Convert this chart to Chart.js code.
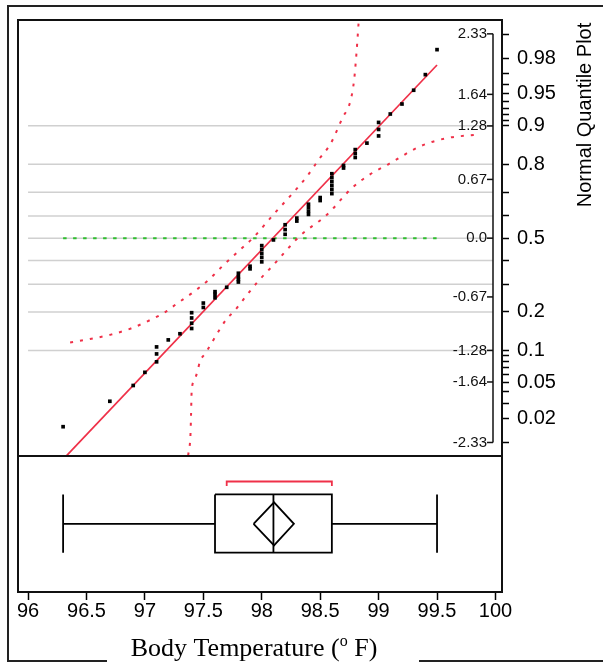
<!DOCTYPE html>
<html>
<head>
<meta charset="utf-8">
<title>Body Temperature - Normal Quantile Plot</title>
<script src="https://cdn.jsdelivr.net/npm/chart.js"></script>
<style>
	body { margin: 0; background: #fff; }
</style>
</head>
<body>
<canvas id="quantChart" width="603" height="665"></canvas>
<script>
// body temperatures (deg F), sorted, one per subject
var temps = [96.3, 96.7, 96.9, 97.0, 97.1, 97.1, 97.1, 97.2, 97.3, 97.4, 97.4, 97.4, 97.4,
	97.5, 97.5, 97.6, 97.6, 97.6, 97.7, 97.8, 97.8, 97.8, 97.8, 97.9, 97.9,
	98.0, 98.0, 98.0, 98.0, 98.0, 98.1, 98.2, 98.2, 98.2, 98.3, 98.3,
	98.4, 98.4, 98.4, 98.4, 98.5, 98.5, 98.6, 98.6, 98.6, 98.6, 98.6, 98.6,
	98.7, 98.7, 98.8, 98.8, 98.8, 98.9, 99.0, 99.0, 99.0, 99.1, 99.2, 99.3, 99.4, 99.5];
// normal quantile of each point
var normalQuantiles = [-2.15, -1.86, -1.68, -1.53, -1.41, -1.32, -1.24, -1.16, -1.09, -1.03, -0.97, -0.91, -0.85,
	-0.79, -0.74, -0.68, -0.64, -0.61, -0.56, -0.50, -0.47, -0.44, -0.40, -0.35, -0.32,
	-0.27, -0.22, -0.175, -0.13, -0.085, -0.02, 0.044, 0.098, 0.153, 0.195, 0.229,
	0.271, 0.308, 0.348, 0.387, 0.429, 0.463, 0.508, 0.554, 0.599, 0.644, 0.69, 0.735,
	0.80, 0.829, 0.92, 0.965, 1.01, 1.084, 1.166, 1.24, 1.32, 1.416, 1.53, 1.687, 1.865, 2.15];

// fitted normal line
var fitX = [96.33, 99.5];
var fitQ = [-2.48, 1.975];
// confidence curves
var upperBandX = [96.36, 96.53, 96.71, 96.88, 97.05, 97.19, 97.27, 97.41, 97.55, 97.67, 97.80, 97.93,
	98.10, 98.27, 98.39, 98.49, 98.59, 98.69, 98.76, 98.79, 98.81, 98.83];
var upperBandQ = [-1.19, -1.15, -1.10, -1.03, -0.93, -0.83, -0.75, -0.62, -0.47, -0.31, -0.15, 0.01,
	0.27, 0.52, 0.71, 0.90, 1.08, 1.37, 1.57, 1.80, 2.10, 2.48];
var lowerBandX = [97.37, 97.39, 97.395, 97.40, 97.42, 97.45, 97.47, 97.52, 97.56, 97.60, 97.70, 97.76,
	97.86, 97.97, 98.09, 98.21, 98.33, 98.56, 98.77, 98.93, 99.08, 99.36, 99.58, 99.83];
var lowerBandQ = [-2.48, -2.24, -2.01, -1.75, -1.63, -1.52, -1.41, -1.31, -1.22, -1.13, -0.92, -0.84,
	-0.67, -0.49, -0.32, -0.14, 0.03, 0.27, 0.57, 0.73, 0.84, 1.05, 1.14, 1.18];
// zero reference line spans the data
var zeroX = [96.3, 99.5];

// outlier box plot: min, Q1, median, Q3, max
var boxSummary = [96.3, 97.6, 98.1, 98.6, 99.5];
// mean diamond: lower 95%, mean, upper 95%
var meanDiamond = [97.93, 98.105, 98.275];
// shortest half bracket
var shortestHalf = [97.7, 98.6];

// axis labels
var quantTicks = [-2.33, -1.64, -1.28, -0.67, 0, 0.67, 1.28, 1.64, 2.33];
var quantLabels = ['-2.33', '-1.64', '-1.28', '-0.67', '0.0', '0.67', '1.28', '1.64', '2.33'];
var probMajor = [0.02, 0.05, 0.1, 0.2, 0.5, 0.8, 0.9, 0.95, 0.98];
var probLabels = ['0.02', '0.05', '0.1', '0.2', '0.5', '0.8', '0.9', '0.95', '0.98'];
var probMinor = [0.01, 0.03, 0.04, 0.06, 0.07, 0.08, 0.09, 0.3, 0.4, 0.6, 0.7, 0.91, 0.92, 0.93, 0.94, 0.96, 0.97, 0.99];
var gridProbs = [0.1, 0.2, 0.3, 0.4, 0.5, 0.6, 0.7, 0.8, 0.9];

// vertical layout of the box plot panel (in quantile-axis units)
var panelSplit = -2.483;
var boxTop = -2.922, boxBottom = -3.586, boxMid = -3.257;
var diamondTop = -3.012, diamondBottom = -3.503;
var bracketY = -2.775, bracketEnd = -2.825;

var SANS = '"Liberation Sans", Arial, Helvetica, sans-serif';
var SERIF = '"Liberation Serif", "Times New Roman", serif';

//inverse normal cdf (Acklam)
function probit(p) {
	var a = [-3.969683028665376e+01, 2.209460984245205e+02, -2.759285104469687e+02, 1.383577518672690e+02, -3.066479806614716e+01, 2.506628277459239e+00];
	var b = [-5.447609879822406e+01, 1.615858368580409e+02, -1.556989798598866e+02, 6.680131188771972e+01, -1.328068155288572e+01];
	var c = [-7.784894002430293e-03, -3.223964580411365e-01, -2.400758277161838e+00, -2.549732539343734e+00, 4.374664141464968e+00, 2.938163982698783e+00];
	var d = [7.784695709041462e-03, 3.224671290700398e-01, 2.445134137142996e+00, 3.754408661907416e+00];
	var q, r;
	if (p < 0.02425) {
		q = Math.sqrt(-2 * Math.log(p));
		return (((((c[0]*q+c[1])*q+c[2])*q+c[3])*q+c[4])*q+c[5]) / ((((d[0]*q+d[1])*q+d[2])*q+d[3])*q+1);
	}
	if (p > 1 - 0.02425) {
		q = Math.sqrt(-2 * Math.log(1 - p));
		return -(((((c[0]*q+c[1])*q+c[2])*q+c[3])*q+c[4])*q+c[5]) / ((((d[0]*q+d[1])*q+d[2])*q+d[3])*q+1);
	}
	q = p - 0.5;
	r = q * q;
	return (((((a[0]*r+a[1])*r+a[2])*r+a[3])*r+a[4])*r+a[5])*q / (((((b[0]*r+b[1])*r+b[2])*r+b[3])*r+b[4])*r+1);
}

function toPoints(xs, ys) {
	var pts = [];
	for (var i = 0; i < xs.length; i++) {
		pts.push({x: xs[i], y: ys[i]});
	}
	return pts;
}

var GAP = {x: null, y: null};

// right probability axis ticks
var probTicks = [];
probMajor.forEach(function(p, i) { probTicks.push({value: probit(p), label: probLabels[i]}); });
probMinor.forEach(function(p) { probTicks.push({value: probit(p), label: ''}); });
probTicks.sort(function(a, b) { return a.value - b.value; });

function line(ctx, x1, y1, x2, y2) {
	ctx.beginPath();
	ctx.moveTo(x1, y1);
	ctx.lineTo(x2, y2);
	ctx.stroke();
}

var panelPlugin = {
	id: 'panels',
	beforeDatasetsDraw: function(chart) {
		var ctx = chart.ctx, xs = chart.scales.x, ys = chart.scales.y, area = chart.chartArea;
		var x0 = xs.getPixelForValue(96), x1 = area.right - 9;
		ctx.save();
		ctx.strokeStyle = '#d0d0d0';
		ctx.lineWidth = 1.5;
		gridProbs.forEach(function(p) {
			var py = ys.getPixelForValue(probit(p));
			line(ctx, x0, py, x1, py);
		});
		ctx.restore();
	},
	afterDraw: function(chart) {
		var ctx = chart.ctx, ys = chart.scales.y, area = chart.chartArea;
		var ax = area.right - 9;
		ctx.save();
		// panel frames
		ctx.strokeStyle = '#111';
		ctx.lineWidth = 2;
		ctx.strokeRect(area.left, area.top, area.right - area.left, area.bottom - area.top);
		var sy = ys.getPixelForValue(panelSplit);
		line(ctx, area.left, sy, area.right, sy);

		// inner normal quantile axis
		ctx.lineWidth = 1.5;
		line(ctx, ax, ys.getPixelForValue(2.33), ax, ys.getPixelForValue(-2.33));
		ctx.font = '15px ' + SANS;
		ctx.fillStyle = '#111';
		ctx.textAlign = 'right';
		ctx.textBaseline = 'middle';
		quantTicks.forEach(function(q, i) {
			var py = ys.getPixelForValue(q);
			line(ctx, ax - 6, py, ax, py);
			ctx.fillText(quantLabels[i], ax - 6, py);
		});

		// outer frame
		ctx.strokeStyle = '#222';
		ctx.lineWidth = 2;
		ctx.beginPath();
		ctx.moveTo(603, 6);
		ctx.lineTo(8, 6);
		ctx.lineTo(8, 661);
		ctx.lineTo(107, 661);
		ctx.moveTo(419, 661);
		ctx.lineTo(603, 661);
		ctx.stroke();

		// right title
		ctx.save();
		ctx.translate(585, 115);
		ctx.rotate(-Math.PI / 2);
		ctx.font = '20px ' + SANS;
		ctx.textAlign = 'center';
		ctx.textBaseline = 'middle';
		ctx.fillStyle = '#000';
		ctx.fillText('Normal Quantile Plot', 0, 0);
		ctx.restore();

		// bottom title with superscript o
		var big = '26px ' + SERIF, small = '16px ' + SERIF;
		var partA = 'Body Temperature (', partB = 'o', partC = ' F)';
		ctx.font = big;
		var wA = ctx.measureText(partA).width, wC = ctx.measureText(partC).width;
		ctx.font = small;
		var wB = ctx.measureText(partB).width;
		var tx = 254 - (wA + wB + wC) / 2, ty = 656;
		ctx.textAlign = 'left';
		ctx.textBaseline = 'alphabetic';
		ctx.fillStyle = '#000';
		ctx.font = big;
		ctx.fillText(partA, tx, ty);
		ctx.font = small;
		ctx.fillText(partB, tx + wA, ty - 10);
		ctx.font = big;
		ctx.fillText(partC, tx + wA + wB, ty);
		ctx.restore();
	}
};

var RED = '#ef3048';
var lineDefaults = {showLine: true, pointRadius: 0, pointHoverRadius: 0, fill: false};

function lineSet(data, color, width, extra) {
	var ds = Object.assign({data: data, borderColor: color, borderWidth: width}, lineDefaults);
	return Object.assign(ds, extra || {});
}

var q1 = boxSummary[1], q3 = boxSummary[3];
var datasets = [
	{
		label: 'Body Temperature',
		data: toPoints(temps, normalQuantiles),
		pointStyle: 'rect',
		pointRadius: 2.6,
		pointBorderWidth: 0,
		pointBackgroundColor: '#000',
		backgroundColor: '#000',
		showLine: false
	},
	lineSet(toPoints(fitX, fitQ), RED, 1.7),
	lineSet(toPoints(upperBandX, upperBandQ), RED, 2, {borderDash: [3, 7], cubicInterpolationMode: 'monotone'}),
	lineSet(toPoints(lowerBandX, lowerBandQ), RED, 2, {borderDash: [3, 7], cubicInterpolationMode: 'monotone'}),
	lineSet(toPoints(zeroX, [0, 0]), '#2fbf2f', 2, {borderDash: [3.5, 6.5]}),
	// box
	lineSet([{x: q1, y: boxTop}, {x: q3, y: boxTop}, {x: q3, y: boxBottom}, {x: q1, y: boxBottom}, {x: q1, y: boxTop}], '#000', 1.8),
	lineSet([{x: boxSummary[2], y: boxTop}, {x: boxSummary[2], y: boxBottom}], '#000', 1.8),
	// whiskers and caps
	lineSet([{x: boxSummary[0], y: boxMid}, {x: q1, y: boxMid}, GAP, {x: q3, y: boxMid}, {x: boxSummary[4], y: boxMid}], '#000', 1.8),
	lineSet([{x: boxSummary[0], y: boxTop}, {x: boxSummary[0], y: boxBottom}, GAP, {x: boxSummary[4], y: boxTop}, {x: boxSummary[4], y: boxBottom}], '#000', 1.8),
	// mean diamond
	lineSet([{x: meanDiamond[0], y: boxMid}, {x: meanDiamond[1], y: diamondTop}, {x: meanDiamond[2], y: boxMid},
		{x: meanDiamond[1], y: diamondBottom}, {x: meanDiamond[0], y: boxMid}], '#000', 1.8),
	// shortest half
	lineSet([{x: shortestHalf[0], y: bracketEnd}, {x: shortestHalf[0], y: bracketY}, {x: shortestHalf[1], y: bracketY},
		{x: shortestHalf[1], y: bracketEnd}], RED, 1.8)
];

Chart.defaults.font.family = SANS;
Chart.defaults.color = '#000';

var ctx = document.getElementById('quantChart').getContext('2d');
var myChart = new Chart(ctx, {
	type: 'scatter',
	data: {datasets: datasets},
	options: {
		responsive: false,
		animation: false,
		spanGaps: false,
		layout: {padding: {left: 18, top: 16, right: 0, bottom: 0}},
		plugins: {legend: {display: false}, tooltip: {enabled: false}},
		scales: {
			x: {
				type: 'linear',
				min: 95.914,
				max: 100.056,
				border: {display: false},
				grid: {drawOnChartArea: false, tickLength: 8, tickColor: '#000', tickWidth: 1.5},
				ticks: {stepSize: 0.5, includeBounds: false, autoSkip: false, maxRotation: 0, padding: -1,
					color: '#000', font: {size: 20},
					callback: function(v) { return String(v); }},
				afterFit: function(s) { s.height = 73; }
			},
			y: {
				type: 'linear',
				position: 'right',
				min: -4.035,
				max: 2.488,
				border: {display: false},
				grid: {drawOnChartArea: false, tickLength: 7, tickColor: '#000', tickWidth: 1.5},
				afterBuildTicks: function(s) {
					s.ticks = probTicks.map(function(t) { return {value: t.value}; });
				},
				ticks: {autoSkip: false, padding: 8, color: '#000', font: {size: 20},
					callback: function(v, i) { return probTicks[i] ? probTicks[i].label : ''; }},
				afterFit: function(s) { s.width = 101; }
			}
		}
	},
	plugins: [panelPlugin]
});
</script>
</body>
</html>
